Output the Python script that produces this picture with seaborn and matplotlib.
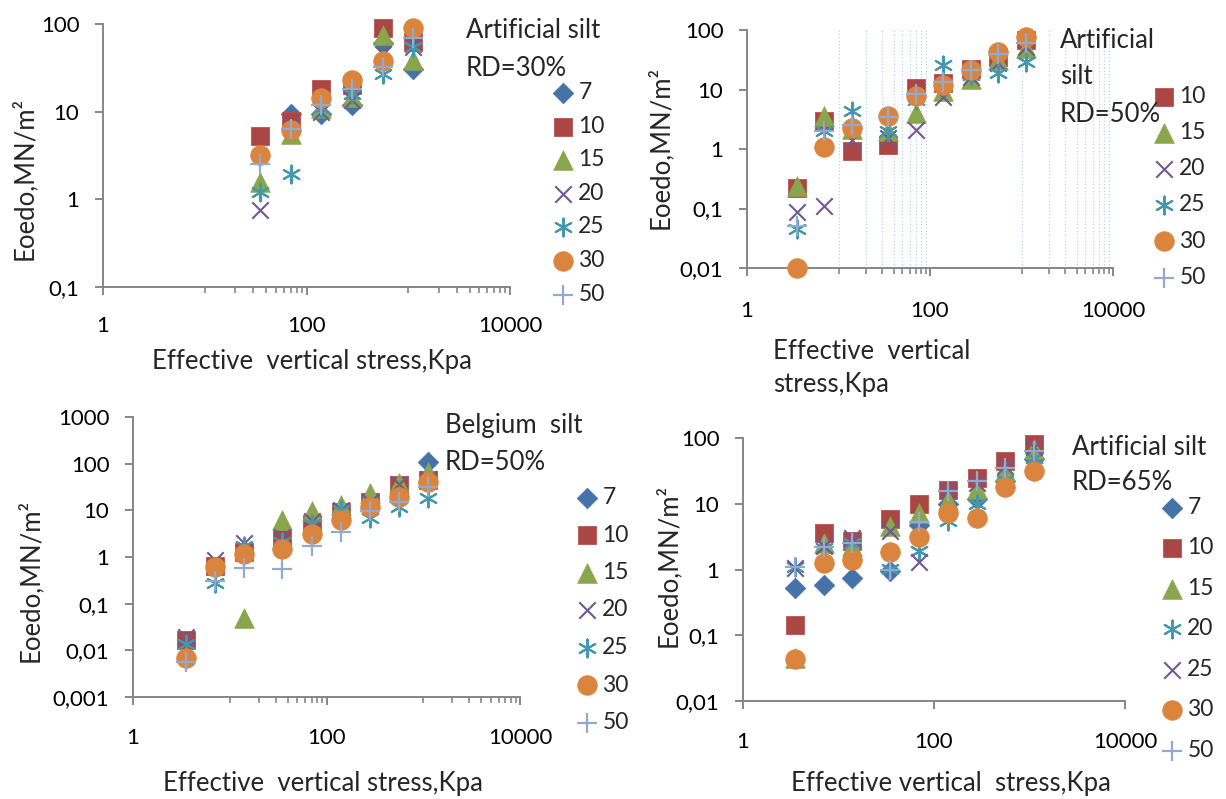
import numpy as np
import pandas as pd
import matplotlib
matplotlib.use("Agg")
import matplotlib.pyplot as plt
from matplotlib.ticker import NullFormatter
import seaborn as sns

# ---------------- data: oedometric modulus vs effective vertical stress ----------------
nan = np.nan
stress = [3.5, 7, 14, 35, 70, 140, 280, 560, 1120]          # kPa
stress_rd30 = [35, 70, 140, 280, 560, 1120]                  # kPa

# Artificial silt, RD=30%
a30_7 = [nan, 9.5, 9.5, 11.9, 60, 31]
a30_10 = [5.3, 7.9, 17.9, 20, 89, 63]
a30_15 = [1.58, 5.6, 11, 14.8, 75, 39]
a30_20 = [0.75, 7.0, 10, 13.6, 45, 55]
a30_25 = [1.22, 1.97, 11, 16, 27, 55]
a30_30 = [3.2, 6.2, 14.4, 23, 37.8, 89]
a30_50 = [2.56, 6.3, 12, 18, 32, 69]

# Artificial silt, RD=50%
a50_10 = [0.22, 2.9, 0.94, 1.18, 10.7, 13.0, 22, 35, 68]
a50_15 = [0.24, 3.6, 2.2, 2.0, 4.1, 9.4, 15, 31, 49]
a50_20 = [0.089, 0.11, 1.4, 1.55, 2.1, 7.6, 16.5, 28, 52]
a50_25 = [0.045, 2.0, 4.4, 2.0, 6.7, 26, 17.6, 18.7, 29.4]
a50_30 = [0.01, 1.1, 2.25, 3.55, 7.9, 12.0, 21.5, 43, 77]
a50_50 = [0.05, 2.0, 2.5, 3.5, 8.3, 13.6, 21, 40, 60]

# Belgium silt, RD=50%
b50_7 = [nan, nan, nan, nan, nan, nan, nan, nan, 109]
b50_10 = [0.017, 0.63, 1.3, 2.4, 5.0, 9.0, 15.3, 35, 44]
b50_15 = [nan, nan, 0.049, 6.2, 9.7, 13.0, 23, 37.7, 67]
b50_20 = [0.019, 0.85, 2.0, 2.7, 5.9, 10, 15, 36, 48]
b50_25 = [0.014, 0.28, 1.7, 2.1, 5.2, 10, 6.8, 11.9, 18]
b50_30 = [0.0067, 0.62, 1.17, 1.5, 3.1, 6.2, 12, 19.5, 40]
b50_50 = [0.0056, 0.3, 0.57, 0.56, 1.75, 3.5, 9.5, 15, 32]

# Artificial silt, RD=65%
a65_7 = [0.52, 0.59, 0.74, 0.94, 4.8, 10, 12, 22, 48]
a65_10 = [0.143, 3.6, 2.7, 5.8, 9.8, 16, 25, 44, 80]
a65_15 = [0.045, 2.5, 2.3, 4.6, 7.2, 11.5, 17, 31, 68]
a65_20 = [1.1, 2.1, 2.5, 1.02, 1.9, 5.5, 10, 23, 50]
a65_25 = [1.05, 2.3, 3.0, 3.8, 1.3, 16, 21, 38, 72]
a65_30 = [0.043, 1.25, 1.4, 1.84, 3.1, 7.2, 6.0, 17.9, 31]
a65_50 = [1.1, 2.2, 2.5, 1.0, 5.2, 15.5, 22, 35, 63]

x_major = [1, 100, 10000]
x_major_labels = ["1", "100", "10000"]
x_minor = [10, 20, 30, 40, 50, 60, 70, 80, 90,
           1000, 2000, 3000, 4000, 5000, 6000, 7000, 8000, 9000]
y_ticks_30 = [0.1, 1, 10, 100]
y_labels_30 = ["0,1", "1", "10", "100"]
y_ticks_50 = [0.01, 0.1, 1, 10, 100]
y_labels_50 = ["0,01", "0,1", "1", "10", "100"]
y_ticks_b50 = [0.001, 0.01, 0.1, 1, 10, 100, 1000]
y_labels_b50 = ["0,001", "0,01", "0,1", "1", "10", "100", "1000"]

# ---------------- styling ----------------
sns.set_style("ticks")
plt.rcParams["font.family"] = ["Lato", "DejaVu Sans"]

FS_TICK = 16
FS_LEG = 16.5
FS_TEXT = 18.5
AXIS_GREY = "#868686"
W, H = 1226, 799

MARKERS = {
    "diamond": dict(marker="D", color="#4572A7", s=110, edgecolor="#4572A7", linewidth=0.5),
    "square": dict(marker="s", color="#AA4643", s=185, edgecolor="#B85450", linewidth=0.6),
    "triangle": dict(marker="^", color="#89A54E", s=200, edgecolor="#89A54E", linewidth=0.5),
    "x": dict(marker="x", color="#71588F", s=140, linewidth=1.5),
    "star": dict(marker=(6, 2, 0), color="#4198AF", s=165, linewidth=1.5),
    "circle": dict(marker="o", color="#DB843D", s=200, edgecolor="#DB843D", linewidth=0.5),
    "plus": dict(marker="+", color="#93A9CF", s=190, linewidth=1.6),
}

panels = [
    dict(box=(103, 24, 510, 287), x=stress_rd30,
         series=[("7", a30_7, "diamond"), ("10", a30_10, "square"), ("15", a30_15, "triangle"),
                 ("20", a30_20, "x"), ("25", a30_25, "star"), ("30", a30_30, "circle"),
                 ("50", a30_50, "plus")],
         ylim=(0.1, 100), yticks=y_ticks_30, ylabels=y_labels_30, minor=True, grid=False,
         xpad=15, title=["Artificial silt", "RD=30%"], title_xy=(466, 30), title_step=38,
         legend_xy=(563, 93), legend_space=0.55,
         xlabel="Effective  vertical stress,Kpa", xlabel_xy=(312, 362),
         ylabel_xy=(24, 178)),
    dict(box=(747, 30, 1113, 268), x=stress,
         series=[("10", a50_10, "square"), ("15", a50_15, "triangle"), ("20", a50_20, "x"),
                 ("25", a50_25, "star"), ("30", a50_30, "circle"), ("50", a50_50, "plus")],
         ylim=(0.01, 100), yticks=y_ticks_50, ylabels=y_labels_50, minor=True, grid=True,
         xpad=18, title=["Artificial", "silt", "RD=50%"], title_xy=(1060, 40), title_step=37,
         legend_xy=(1164, 97), legend_space=0.66,
         xlabel="Effective  vertical\nstress,Kpa", xlabel_xy=(773, 368), xlabel_left=True,
         ylabel_xy=(660, 147)),
    dict(box=(133, 417, 520, 697), x=stress,
         series=[("7", b50_7, "diamond"), ("10", b50_10, "square"), ("15", b50_15, "triangle"),
                 ("20", b50_20, "x"), ("25", b50_25, "star"), ("30", b50_30, "circle"),
                 ("50", b50_50, "plus")],
         ylim=(0.001, 1000), yticks=y_ticks_b50, ylabels=y_labels_b50, minor=True, grid=False,
         xpad=16, title=["Belgium  silt", "RD=50%"], title_xy=(445, 425), title_step=37,
         legend_xy=(587, 498), legend_space=0.72,
         xlabel="Effective  vertical stress,Kpa", xlabel_xy=(323, 783),
         ylabel_xy=(30, 580)),
    dict(box=(743, 438, 1125, 701), x=stress,
         series=[("7", a65_7, "diamond"), ("10", a65_10, "square"), ("15", a65_15, "triangle"),
                 ("20", a65_20, "star"), ("25", a65_25, "x"), ("30", a65_30, "circle"),
                 ("50", a65_50, "plus")],
         ylim=(0.01, 100), yticks=y_ticks_50, ylabels=y_labels_50, minor=False, grid=False,
         xpad=16.5, title=["Artificial silt", "RD=65%"], title_xy=(1072, 447), title_step=36,
         legend_xy=(1172, 508), legend_space=0.85,
         xlabel="Effective vertical  stress,Kpa", xlabel_xy=(951, 783),
         ylabel_xy=(668, 565)),
]

fig = plt.figure(figsize=(W / 100, H / 100), dpi=100)


def fx(px):
    return px / W


def fy(py):
    return 1 - py / H


for p in panels:
    l, t, r, b = p["box"]
    ax = fig.add_axes([fx(l), fy(b), (r - l) / W, (b - t) / H])

    for name, values, mk in p["series"]:
        df = pd.DataFrame({"stress": p["x"], "Eoedo": values})
        sns.scatterplot(data=df, x="stress", y="Eoedo", ax=ax, label=name,
                        clip_on=False, zorder=3, **MARKERS[mk])

    ax.set_xscale("log")
    ax.set_yscale("log")
    ax.set_xlim(1, 10000)
    ax.set_ylim(*p["ylim"])
    ax.set_xticks(x_major, labels=x_major_labels)
    ax.set_xticks(x_minor if p["minor"] else [], minor=True)
    ax.xaxis.set_minor_formatter(NullFormatter())
    ax.set_yticks(p["yticks"], labels=p["ylabels"])
    ax.set_yticks([], minor=True)

    for side in ("top", "right"):
        ax.spines[side].set_visible(False)
    for side in ("left", "bottom"):
        ax.spines[side].set_color(AXIS_GREY)
        ax.spines[side].set_linewidth(1.4)

    ax.tick_params(axis="both", which="major", direction="out", length=6, width=1.4,
                   color=AXIS_GREY, labelsize=FS_TICK, labelcolor="black")
    ax.tick_params(axis="x", which="major", pad=p["xpad"])
    ax.tick_params(axis="y", which="major", pad=11)
    ax.tick_params(axis="x", which="minor", direction="out", length=4, width=1.2,
                   color=AXIS_GREY)

    if p["grid"]:
        ax.grid(True, which="minor", axis="x", color="#B3C9E6",
                linestyle=(0, (1, 2)), linewidth=0.8)
    else:
        ax.grid(False)

    ax.set_xlabel("")
    ax.set_ylabel("")

    # axis titles
    xl, yl = p["xlabel_xy"]
    if p.get("xlabel_left"):
        fig.text(fx(xl), fy(yl), p["xlabel"], ha="left", va="center", fontsize=FS_TEXT,
                 linespacing=1.36, multialignment="left")
    else:
        fig.text(fx(xl), fy(yl), p["xlabel"], ha="center", va="center", fontsize=FS_TEXT)
    yx, yy = p["ylabel_xy"]
    fig.text(fx(yx), fy(yy), "Eoedo,MN/m\u00b2", rotation=90, ha="center", va="center",
             fontsize=FS_TEXT)

    # series name block
    tx, ty = p["title_xy"]
    for i, line in enumerate(p["title"]):
        fig.text(fx(tx), fy(ty + i * p["title_step"]), line, ha="left", va="center",
                 fontsize=FS_TEXT)

    # legend
    handles, labels = ax.get_legend_handles_labels()
    mx, my = p["legend_xy"]
    ax.legend(handles, labels, loc="upper left",
              bbox_to_anchor=(fx(mx - 11), fy(my - 11)), bbox_transform=fig.transFigure,
              frameon=False, fontsize=FS_LEG, handlelength=0.95, handletextpad=0.2,
              labelspacing=p["legend_space"], borderpad=0, borderaxespad=0,
              scatterpoints=1)

fig.savefig("out.png", dpi=100)
